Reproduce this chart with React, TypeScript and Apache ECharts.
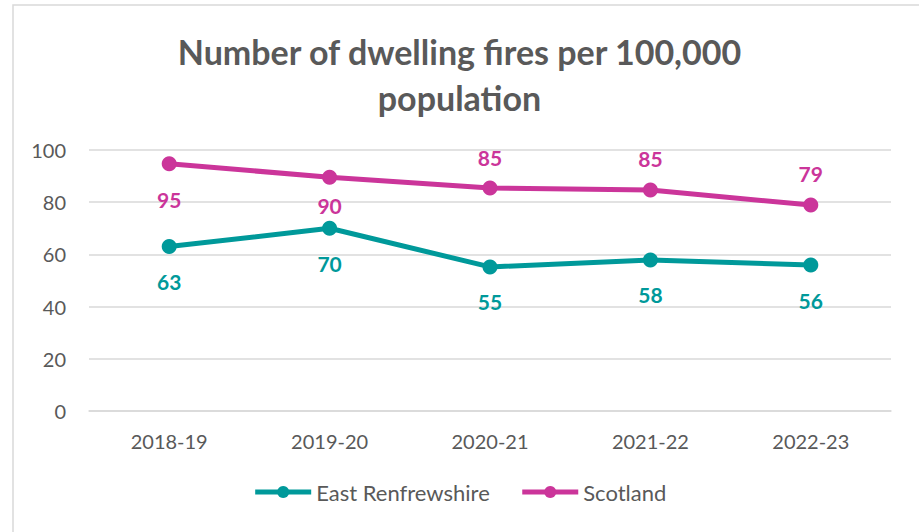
import React, { useEffect, useRef } from "react";
import * as echarts from "echarts";

const categories = ["2018-19", "2019-20", "2020-21", "2021-22", "2022-23"];
const eastRenfrewshire = [63, 70, 55.2, 57.9, 55.9];
const scotland = [94.7, 89.6, 85.4, 84.7, 78.9];
const scotlandLabelPos = ["bottom", "bottom", "top", "top", "top"];
const scotlandLabelDist = [18, 10, 13, 13, 14];
const yTicks = { min: 0, max: 100, interval: 20 };

const TEAL = "#00999A";
const MAGENTA = "#CB359A";
const FONT = "Lato, 'Open Sans', sans-serif";

export default function App() {
  const ref = useRef<HTMLDivElement>(null);
  useEffect(() => {
    if (!ref.current) return;
    const chart = echarts.init(ref.current, null, { renderer: "svg" });
    chart.setOption({
      animation: false,
      backgroundColor: "#ffffff",
      textStyle: { fontFamily: FONT },
      graphic: [
        {
          type: "rect",
          shape: { x: 13, y: 5, width: 1000, height: 1000 },
          style: { fill: "none", stroke: "#D9D9D9", lineWidth: 1.5 },
          silent: true,
        },
      ],
      title: {
        text: "Number of dwelling fires per 100,000\npopulation",
        left: "center",
        top: 23,
        textStyle: {
          fontFamily: FONT,
          fontSize: 34,
          fontWeight: "bold",
          color: "#595959",
          lineHeight: 46,
        },
      },
      legend: {
        bottom: 24,
        left: "center",
        itemWidth: 56,
        itemHeight: 15,
        itemGap: 30,
        lineStyle: { width: 5 },
        textStyle: { fontFamily: FONT, fontSize: 22, color: "#595959", padding: [0, 0, 0, 0] },
        data: ["East Renfrewshire", "Scotland"],
      },
      grid: { left: 89, right: 28, top: 150, bottom: 121, containLabel: false },
      xAxis: {
        type: "category",
        data: categories,
        boundaryGap: true,
        axisLine: { show: true, lineStyle: { color: "#D9D9D9", width: 1.5 } },
        axisTick: { show: false },
        axisLabel: { fontFamily: FONT, fontSize: 20, color: "#595959", margin: 20 },
      },
      yAxis: {
        type: "value",
        min: yTicks.min,
        max: yTicks.max,
        interval: yTicks.interval,
        axisLine: { show: false },
        axisTick: { show: false },
        splitLine: { lineStyle: { color: "#D9D9D9", width: 1.5 } },
        axisLabel: { fontFamily: FONT, fontSize: 20, color: "#595959", margin: 23 },
      },
      series: [
        {
          name: "East Renfrewshire",
          type: "line",
          data: eastRenfrewshire,
          symbol: "circle",
          symbolSize: 15,
          lineStyle: { color: TEAL, width: 5 },
          itemStyle: { color: TEAL },
          label: {
            show: true,
            position: "bottom",
            distance: 17,
            fontFamily: FONT,
            fontSize: 21,
            fontWeight: "bold",
            color: TEAL,
            formatter: (p: any) => String(Math.round(p.value)),
          },
        },
        {
          name: "Scotland",
          type: "line",
          data: scotland.map((v, i) => ({
            value: v,
            label: {
              position: scotlandLabelPos[i],
              distance: scotlandLabelDist[i],
            },
          })),
          symbol: "circle",
          symbolSize: 15,
          lineStyle: { color: MAGENTA, width: 5 },
          itemStyle: { color: MAGENTA },
          label: {
            show: true,
            fontFamily: FONT,
            fontSize: 21,
            fontWeight: "bold",
            color: MAGENTA,
            formatter: (p: any) => String(Math.round(p.value)),
          },
        },
      ],
    });
    return () => chart.dispose();
  }, []);
  return (
    <div
      ref={ref}
      style={{ position: "fixed", left: 0, top: 0, width: 919, height: 532 }}
    />
  );
}
